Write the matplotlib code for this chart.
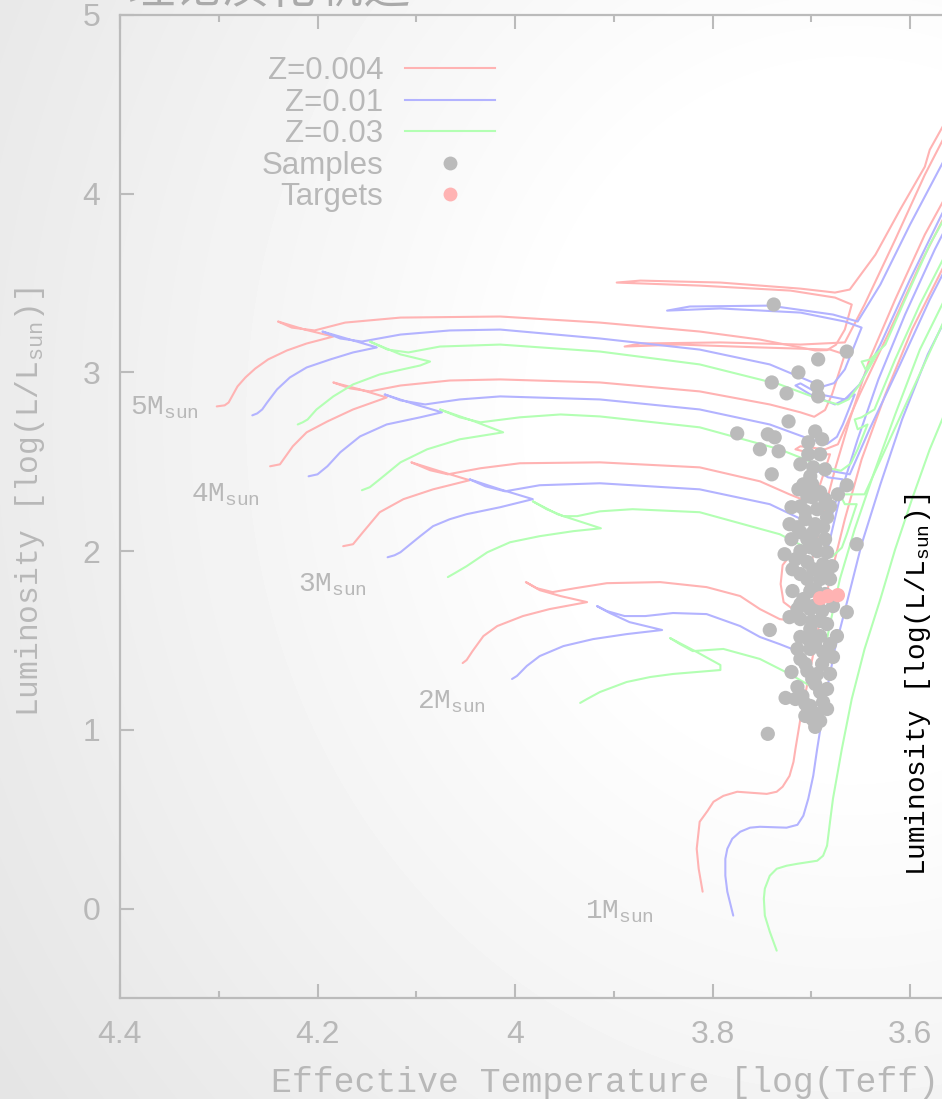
import numpy as np
import matplotlib
matplotlib.use('Agg')
import matplotlib.pyplot as plt
from matplotlib.lines import Line2D

plt.rcParams['font.family'] = ['Liberation Sans', 'DejaVu Sans']
plt.rcParams['mathtext.fontset'] = 'custom'
plt.rcParams['mathtext.rm'] = 'Liberation Mono'
plt.rcParams['mathtext.it'] = 'Liberation Mono'

# Evolutionary tracks, (log Teff, log L) pairs
# 5 Msun
trk_5m_z004 = [(4.302, 2.810), (4.294, 2.816), (4.290, 2.832), (4.286, 2.872), (4.281, 2.922), (4.273, 2.972),
               (4.263, 3.022), (4.250, 3.073), (4.231, 3.123), (4.211, 3.162), (4.184, 3.201),
               (4.213, 3.240), (4.240, 3.285), (4.226, 3.251), (4.203, 3.235), (4.172, 3.279),
               (4.116, 3.307), (4.015, 3.313), (3.914, 3.279), (3.813, 3.229), (3.752, 3.184), (3.711, 3.140),
               (3.696, 3.123), (3.684, 3.125), (3.675, 3.155), (3.666, 3.240), (3.659, 3.380), (3.676, 3.419),
               (3.721, 3.458), (3.813, 3.486), (3.897, 3.503), (3.873, 3.514), (3.792, 3.503), (3.711, 3.469),
               (3.676, 3.447), (3.661, 3.464), (3.635, 3.659), (3.610, 3.911), (3.585, 4.151), (3.580, 4.246),
               (3.549, 4.553)]
trk_5m_z010 = [(4.266, 2.760), (4.261, 2.771), (4.256, 2.793), (4.251, 2.832), (4.241, 2.905), (4.228, 2.972),
               (4.211, 3.028), (4.187, 3.073), (4.164, 3.112), (4.140, 3.140),
               (4.167, 3.184), (4.195, 3.229), (4.177, 3.190), (4.155, 3.173), (4.116, 3.212),
               (4.066, 3.235), (4.015, 3.240), (3.914, 3.190), (3.813, 3.128), (3.742, 3.045), (3.701, 2.950),
               (3.688, 2.922), (3.677, 2.940), (3.666, 3.017), (3.649, 3.251), (3.666, 3.285), (3.711, 3.335),
               (3.792, 3.358), (3.846, 3.346), (3.823, 3.369), (3.742, 3.374), (3.678, 3.324), (3.653, 3.285),
               (3.630, 3.492), (3.600, 3.827), (3.568, 4.162), (3.549, 4.358)]
trk_5m_z030 = [(4.220, 2.709), (4.215, 2.721), (4.210, 2.737), (4.201, 2.793), (4.184, 2.866), (4.164, 2.933),
               (4.137, 2.989), (4.096, 3.039), (4.086, 3.061),
               (4.116, 3.101), (4.147, 3.173), (4.129, 3.128), (4.108, 3.112), (4.076, 3.145), (4.015, 3.156),
               (3.914, 3.117), (3.813, 3.045), (3.732, 2.933), (3.691, 2.849), (3.673, 2.821), (3.662, 2.850),
               (3.651, 2.933), (3.632, 3.117), (3.645, 3.017), (3.649, 3.061), (3.640, 3.073), (3.625, 3.156),
               (3.605, 3.408), (3.580, 3.715), (3.549, 4.022)]
# 4 Msun
trk_4m_z004 = [(4.248, 2.475), (4.238, 2.486), (4.233, 2.525), (4.225, 2.587), (4.211, 2.665), (4.190, 2.726),
               (4.164, 2.793), (4.130, 2.860),
               (4.157, 2.905), (4.184, 2.944), (4.167, 2.911), (4.147, 2.894), (4.116, 2.927),
               (4.066, 2.955), (4.015, 2.961), (3.914, 2.944), (3.813, 2.894), (3.742, 2.821), (3.711, 2.777),
               (3.697, 2.752), (3.686, 2.790), (3.679, 2.877), (3.666, 3.101), (3.681, 3.128), (3.752, 3.140),
               (3.833, 3.156), (3.889, 3.145), (3.873, 3.162), (3.792, 3.168), (3.711, 3.156), (3.666, 3.168),
               (3.646, 3.380), (3.615, 3.743), (3.585, 4.106), (3.559, 4.385)]
trk_4m_z010 = [(4.209, 2.419), (4.200, 2.430), (4.190, 2.475), (4.177, 2.553), (4.157, 2.642), (4.130, 2.709),
               (4.096, 2.749), (4.074, 2.777),
               (4.101, 2.821), (4.132, 2.877), (4.116, 2.844), (4.091, 2.821), (4.056, 2.849),
               (4.015, 2.866), (3.914, 2.849), (3.813, 2.793), (3.742, 2.709), (3.701, 2.626), (3.684, 2.600),
               (3.674, 2.640), (3.668, 2.709), (3.656, 2.877), (3.676, 2.821), (3.701, 2.877), (3.716, 2.927),
               (3.711, 2.939), (3.691, 2.877), (3.666, 2.849), (3.651, 2.933), (3.630, 3.156), (3.600, 3.520),
               (3.568, 3.883), (3.549, 4.078)]
trk_4m_z030 = [(4.155, 2.341), (4.147, 2.358), (4.137, 2.402), (4.116, 2.497), (4.089, 2.570), (4.056, 2.626),
               (4.012, 2.665),
               (4.041, 2.726), (4.076, 2.793), (4.056, 2.749), (4.035, 2.721), (3.995, 2.749),
               (3.954, 2.765), (3.914, 2.754), (3.813, 2.693), (3.732, 2.570), (3.686, 2.469), (3.670, 2.450),
               (3.660, 2.490), (3.653, 2.570), (3.643, 2.709), (3.653, 2.682), (3.656, 2.737), (3.649, 2.749),
               (3.636, 2.793), (3.615, 3.073), (3.590, 3.380), (3.559, 3.715)]
# 3 Msun
trk_3m_z004 = [(4.174, 2.028), (4.164, 2.039), (4.154, 2.106), (4.137, 2.218), (4.113, 2.291), (4.083, 2.346),
               (4.046, 2.397),
               (4.076, 2.447), (4.105, 2.497), (4.086, 2.453), (4.068, 2.430), (4.035, 2.464),
               (3.995, 2.492), (3.914, 2.497), (3.813, 2.469), (3.752, 2.391), (3.722, 2.318), (3.703, 2.276),
               (3.695, 2.310), (3.691, 2.374), (3.681, 2.542), (3.696, 2.542), (3.716, 2.570), (3.711, 2.587),
               (3.686, 2.570), (3.673, 2.598), (3.651, 2.877), (3.620, 3.240), (3.590, 3.603), (3.559, 3.939)]
trk_3m_z010 = [(4.129, 1.966), (4.122, 1.977), (4.116, 1.994), (4.106, 2.039), (4.096, 2.084), (4.083, 2.140),
               (4.066, 2.179), (4.049, 2.207), (4.015, 2.246), (3.982, 2.291),
               (4.015, 2.346), (4.046, 2.402), (4.030, 2.363), (4.010, 2.335), (3.975, 2.369),
               (3.914, 2.380), (3.813, 2.346), (3.742, 2.263), (3.706, 2.168), (3.688, 2.136), (3.680, 2.180),
               (3.676, 2.263), (3.668, 2.402), (3.683, 2.413), (3.696, 2.458), (3.689, 2.458), (3.661, 2.430),
               (3.641, 2.682), (3.610, 3.045), (3.580, 3.408), (3.549, 3.743)]
trk_3m_z030 = [(4.068, 1.855), (4.061, 1.877), (4.049, 1.916), (4.028, 1.994), (4.005, 2.050), (3.975, 2.084),
               (3.941, 2.112), (3.913, 2.128),
               (3.957, 2.207), (3.982, 2.279), (3.968, 2.235), (3.951, 2.196), (3.937, 2.196), (3.914, 2.223),
               (3.881, 2.235), (3.813, 2.218), (3.732, 2.095), (3.696, 1.994), (3.679, 1.968), (3.669, 2.020),
               (3.664, 2.095), (3.654, 2.263), (3.666, 2.263), (3.671, 2.318), (3.663, 2.318), (3.646, 2.318),
               (3.625, 2.570), (3.595, 2.933), (3.565, 3.296)]
# 2 Msun
trk_2m_z004 = [(4.053, 1.374), (4.049, 1.391), (4.043, 1.441), (4.032, 1.525), (4.018, 1.581), (3.992, 1.637),
               (3.965, 1.676), (3.927, 1.715),
               (3.954, 1.749), (3.975, 1.782), (3.989, 1.827), (3.978, 1.793), (3.962, 1.771), (3.939, 1.793),
               (3.907, 1.821), (3.853, 1.827), (3.806, 1.799), (3.772, 1.749), (3.752, 1.676), (3.732, 1.620),
               (3.716, 1.609), (3.708, 1.732), (3.699, 1.955), (3.689, 2.179), (3.676, 2.458), (3.661, 2.737),
               (3.641, 3.073), (3.615, 3.408), (3.585, 3.771), (3.549, 4.134)]
clump_2m_z004 = [(3.706, 1.983), (3.722, 1.972), (3.729, 1.922), (3.731, 1.816), (3.728, 1.715),
                 (3.716, 1.665), (3.703, 1.698)]
trk_2m_z010 = [(4.003, 1.285), (3.998, 1.302), (3.988, 1.358), (3.975, 1.413), (3.951, 1.469), (3.921, 1.508),
               (3.887, 1.536), (3.851, 1.559),
               (3.884, 1.603), (3.904, 1.654), (3.917, 1.693), (3.907, 1.665), (3.889, 1.637), (3.868, 1.637),
               (3.840, 1.654), (3.806, 1.648), (3.772, 1.581), (3.752, 1.520), (3.732, 1.480), (3.714, 1.441),
               (3.706, 1.453), (3.699, 1.620), (3.691, 1.844), (3.681, 2.067), (3.669, 2.346), (3.653, 2.626),
               (3.632, 2.961), (3.605, 3.324), (3.575, 3.687), (3.544, 4.022)]
trk_2m_z030 = [(3.934, 1.151), (3.927, 1.173), (3.914, 1.212), (3.887, 1.268), (3.863, 1.296), (3.840, 1.313),
               (3.792, 1.335),
               (3.792, 1.363), (3.816, 1.436), (3.843, 1.514), (3.833, 1.480), (3.820, 1.441), (3.789, 1.453),
               (3.752, 1.397), (3.722, 1.313), (3.699, 1.240), (3.693, 1.240), (3.689, 1.369), (3.681, 1.592),
               (3.671, 1.844), (3.656, 2.123), (3.637, 2.430), (3.615, 2.765), (3.590, 3.128), (3.560, 3.464)]
# 1 Msun
trk_1m_z004 = [(3.810, 0.095), (3.814, 0.223), (3.816, 0.335), (3.813, 0.486), (3.805, 0.547), (3.799, 0.598),
               (3.789, 0.631), (3.775, 0.654), (3.745, 0.642), (3.735, 0.654), (3.729, 0.682), (3.722, 0.743),
               (3.718, 0.821), (3.716, 0.894), (3.711, 1.061), (3.703, 1.285), (3.693, 1.564), (3.681, 1.844),
               (3.666, 2.179), (3.649, 2.514), (3.625, 2.877), (3.598, 3.240), (3.565, 3.603)]
trk_1m_z010 = [(3.779, -0.039), (3.785, 0.095), (3.787, 0.184), (3.787, 0.279), (3.785, 0.335), (3.780, 0.391),
               (3.772, 0.430), (3.762, 0.453), (3.752, 0.458), (3.725, 0.453), (3.714, 0.469), (3.708, 0.520),
               (3.703, 0.615), (3.698, 0.743), (3.694, 0.894), (3.686, 1.173), (3.676, 1.453), (3.663, 1.732),
               (3.649, 2.039), (3.630, 2.374), (3.608, 2.737), (3.582, 3.101), (3.549, 3.464)]
trk_1m_z030 = [(3.735, -0.235), (3.742, -0.129), (3.747, -0.039), (3.748, 0.056), (3.747, 0.112), (3.742, 0.184),
               (3.735, 0.223), (3.725, 0.240), (3.714, 0.251), (3.694, 0.268), (3.688, 0.296), (3.684, 0.352),
               (3.681, 0.486), (3.678, 0.615), (3.669, 0.894), (3.659, 1.173), (3.646, 1.453), (3.630, 1.732),
               (3.615, 2.011), (3.598, 2.291), (3.580, 2.570), (3.559, 2.849)]

# Observed stars (log Teff, log L)
samples = [(3.738, 3.380), (3.693, 3.073), (3.664, 3.117), (3.713, 3.000), (3.740, 2.944), (3.725, 2.883),
           (3.694, 2.922), (3.693, 2.866), (3.723, 2.726), (3.775, 2.659), (3.744, 2.654), (3.737, 2.637),
           (3.752, 2.570), (3.733, 2.559), (3.740, 2.430), (3.696, 2.670), (3.689, 2.626), (3.703, 2.609),
           (3.711, 2.486), (3.698, 2.469), (3.701, 2.419), (3.664, 2.369), (3.673, 2.318), (3.691, 2.330),
           (3.704, 2.307), (3.720, 2.246), (3.711, 2.251), (3.681, 2.251), (3.694, 2.235), (3.722, 2.151),
           (3.688, 2.134), (3.711, 2.106), (3.698, 2.106), (3.704, 2.067), (3.654, 2.039), (3.727, 1.983),
           (3.711, 2.000), (3.694, 2.000), (3.684, 1.994), (3.704, 1.939), (3.688, 1.927), (3.679, 1.916),
           (3.719, 1.777), (3.704, 1.844), (3.691, 1.844), (3.681, 1.844), (3.708, 1.732), (3.698, 1.693),
           (3.678, 1.693), (3.664, 1.659), (3.711, 1.620), (3.691, 1.609), (3.742, 1.559), (3.701, 1.564),
           (3.674, 1.525), (3.691, 1.525), (3.703, 1.508), (3.688, 1.436), (3.678, 1.408), (3.720, 1.324),
           (3.704, 1.330), (3.694, 1.313), (3.684, 1.229), (3.709, 1.190), (3.691, 1.212), (3.701, 1.134),
           (3.688, 1.156), (3.726, 1.179), (3.706, 1.078), (3.694, 1.089), (3.691, 1.050), (3.696, 1.017),
           (3.744, 0.978), (3.699, 2.374), (3.686, 2.458), (3.706, 2.179), (3.696, 2.039), (3.686, 2.067),
           (3.719, 1.899), (3.696, 1.788), (3.686, 1.760), (3.714, 1.676), (3.701, 1.453), (3.711, 1.397),
           (3.696, 1.257), (3.681, 1.313), (3.714, 1.240), (3.703, 2.542), (3.691, 2.542), (3.708, 2.374),
           (3.720, 2.067), (3.701, 1.676), (3.706, 1.145), (3.713, 2.346), (3.699, 2.302), (3.686, 2.291),
           (3.706, 2.223), (3.684, 2.190), (3.714, 2.134), (3.696, 2.151), (3.701, 2.022), (3.716, 1.955),
           (3.698, 1.899), (3.711, 1.872), (3.686, 1.872), (3.701, 1.777), (3.711, 1.704), (3.689, 1.665),
           (3.722, 1.631), (3.699, 1.609), (3.684, 1.592), (3.711, 1.520), (3.696, 1.480), (3.681, 1.480),
           (3.714, 1.453), (3.689, 1.369), (3.706, 1.369), (3.699, 1.285), (3.716, 1.173), (3.684, 1.117),
           (3.699, 1.061)]
targets = [(3.691, 1.737), (3.683, 1.749), (3.673, 1.754)]

masses = ['5', '4', '3', '2', '1']
mass_label_pos = [(4.390, 2.765), (4.328, 2.279), (4.220, 1.777), (4.099, 1.117), (3.929, -0.056)]

z_labels = ['Z=0.004', 'Z=0.01', 'Z=0.03']
z_colors = ['#ffb3b3', '#b3b3ff', '#b3ffb3']
tracks = {
    'Z=0.004': [trk_5m_z004, trk_4m_z004, trk_3m_z004, trk_2m_z004, clump_2m_z004, trk_1m_z004],
    'Z=0.01': [trk_5m_z010, trk_4m_z010, trk_3m_z010, trk_2m_z010, trk_1m_z010],
    'Z=0.03': [trk_5m_z030, trk_4m_z030, trk_3m_z030, trk_2m_z030, trk_1m_z030],
}

grey_txt = '#b8b8b8'
W, H = 942, 1099
fig = plt.figure(figsize=(W / 100, H / 100), dpi=100)

# soft slide background
bg = fig.add_axes([0, 0, 1, 1], zorder=-10)
yy, xx = np.mgrid[0:H, 0:W]
d = np.hypot(xx - 850, (yy - 420) * 0.9)
shade = 1 - 0.12 * np.clip((d - 300) / 850, 0, 1)
bg.imshow(shade, cmap='gray', vmin=0, vmax=1, extent=[0, 1, 0, 1], aspect='auto', origin='upper')
bg.axis('off')

ax = fig.add_axes([120 / W, 101 / H, 822 / W, 983 / H])
ax.set_facecolor('none')

for zl, col in zip(z_labels, z_colors):
    for trk in tracks[zl]:
        t, l = zip(*trk)
        ax.plot(t, l, color=col, lw=1.5, solid_joinstyle='round', solid_capstyle='round', zorder=2)

st, sl = zip(*samples)
ax.scatter(st, sl, s=105, color='#bbbbbb', edgecolors='none', zorder=3)
tt, tl = zip(*targets)
ax.scatter(tt, tl, s=105, color='#ffb3b3', edgecolors='none', zorder=4)

for m, (mt, ml) in zip(masses, mass_label_pos):
    ax.text(mt, ml, m + r'M$_{\mathrm{sun}}$', family='Liberation Mono', fontsize=20,
            color=grey_txt, ha='left', va='baseline')

ax.set_xlim(4.4, 3.5676)
ax.set_ylim(-0.5, 5)
ax.set_xticks([4.4, 4.2, 4.0, 3.8, 3.6])
ax.set_xticklabels(['4.4', '4.2', '4', '3.8', '3.6'])
ax.set_xticks([4.3, 4.1, 3.9, 3.7], minor=True)
ax.set_yticks([0, 1, 2, 3, 4, 5])
ax.tick_params(which='both', direction='in', top=True, right=False, color='#bbbbbb', width=1.5)
ax.tick_params(which='major', length=10)
ax.tick_params(which='minor', length=5)
ax.tick_params(axis='x', which='major', labelsize=23, labelcolor=grey_txt, pad=16)
ax.tick_params(axis='y', labelsize=23, labelcolor=grey_txt, pad=14)
for side in ['left', 'bottom', 'top']:
    ax.spines[side].set_color('#bbbbbb')
    ax.spines[side].set_linewidth(1.6)
ax.spines['right'].set_visible(False)

ax.set_xlabel('Effective Temperature [log(Teff)]', family='Liberation Mono', fontsize=25,
              color=grey_txt, va='center')
ax.xaxis.set_label_coords(0.603, -0.0855)
ax.set_ylabel(r'Luminosity [log(L/L$_{\mathrm{sun}}$)]', family='Liberation Mono', fontsize=22.5,
              color=grey_txt, va='center')
ax.yaxis.set_label_coords(-0.1095, 0.5046)

# second luminosity caption in black
ax.text(3.592, 1.25, r'Luminosity [log(L/L$_{\mathrm{sun}}$)]', family='Liberation Mono', fontsize=20,
        color='black', rotation=90, ha='center', va='center')

handles = [Line2D([], [], color=c, lw=1.5) for c in z_colors]
handles += [Line2D([], [], ls='none', marker='o', ms=10, color='#bbbbbb', mec='none'),
            Line2D([], [], ls='none', marker='o', ms=10, color='#ffb3b3', mec='none')]
leg = ax.legend(handles, z_labels + ['Samples', 'Targets'], loc='upper right',
                bbox_to_anchor=(495 / W, 1 - 56 / H), bbox_transform=fig.transFigure,
                frameon=False, markerfirst=False, fontsize=22.5, labelcolor=grey_txt,
                handlelength=2.87, handletextpad=0.7, labelspacing=0.05, borderpad=0, borderaxespad=0)

# heading cut off at the top edge
fig.text(0.135, 1 - 14 / H, '理论演化轨迹', family=['Noto Sans CJK SC', 'DejaVu Sans'], fontsize=34,
         color='#aaaaaa', va='bottom', ha='left')

fig.savefig('out.png', dpi=100)
